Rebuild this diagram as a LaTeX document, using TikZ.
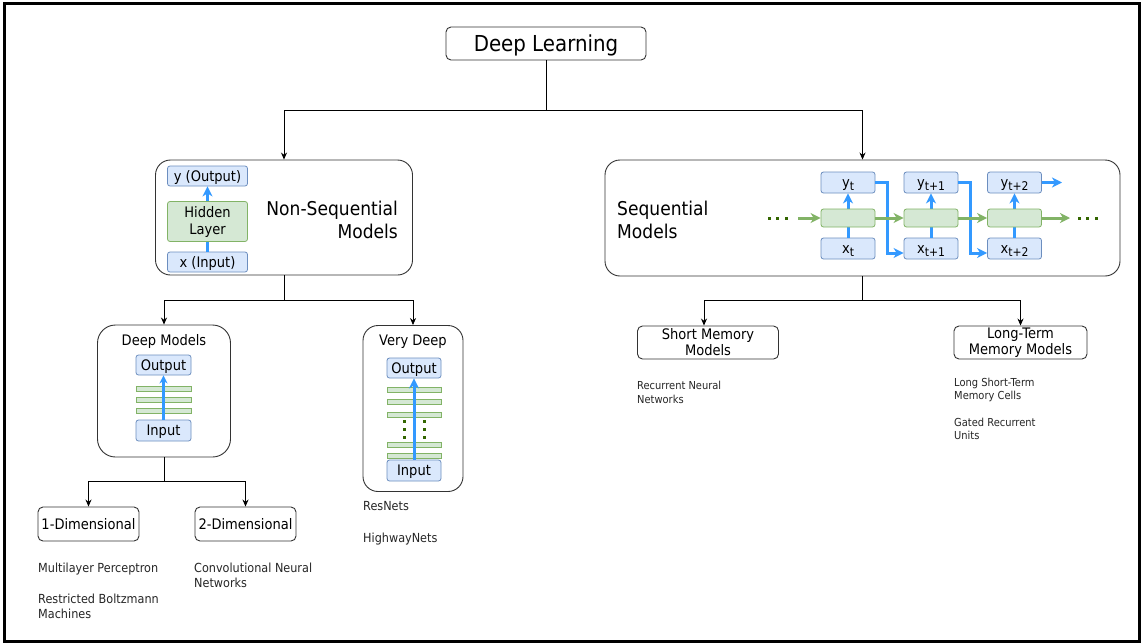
\documentclass[tikz,border=0pt]{standalone}
\usepackage{fontspec}
\setmainfont{DejaVu Sans}[FakeStretch=0.9]
\usetikzlibrary{arrows.meta}
\definecolor{bfill}{HTML}{DAE8FC}
\definecolor{bdraw}{HTML}{6C8EBF}
\definecolor{gfill}{HTML}{D5E8D4}
\definecolor{gdraw}{HTML}{82B366}
\definecolor{barrow}{HTML}{3399FF}
\definecolor{garrow}{HTML}{82B366}
\definecolor{dgreen}{HTML}{336600}
\definecolor{edge}{HTML}{333333}
\newcommand\fsz[2]{\fontsize{#1}{#2}\selectfont}
\newcommand\sbs[1]{\raisebox{-0.35ex}{\fontsize{12}{12}\selectfont #1}}
\begin{document}
\begin{tikzpicture}[x=1pt,y=-1pt,
  box/.style={draw=edge, line width=0.9pt, fill=white, rounded corners=5pt, inner sep=0pt, align=center, text=black},
  capc/.style={text height=10.6pt, text depth=0pt},
  bluebox/.style={draw=bdraw, fill=bfill, rounded corners=2.5pt, inner sep=0pt, line width=0.8pt, align=center, font=\fsz{14.5}{17}},
  greenbox/.style={draw=gdraw, fill=gfill, rounded corners=2.5pt, inner sep=0pt, line width=0.8pt, align=center, font=\fsz{14.5}{17}},
  bar/.style={draw=gdraw, fill=gfill, inner sep=0pt, line width=0.7pt, minimum height=5pt},
  conn/.style={draw=black, line width=0.8pt},
  arr/.style={conn, -{Stealth[length=7pt,width=6pt]}},
  barr/.style={draw=barrow, line width=3pt, -{Stealth[length=10pt,width=10pt,inset=3pt]}},
  barrthin/.style={draw=barrow, line width=2.2pt, -{Stealth[length=8pt,width=8pt,inset=2.5pt]}},
  garr/.style={draw=garrow, line width=3pt, -{Stealth[length=10pt,width=10pt,inset=3pt]}},
  note/.style={anchor=north west, inner sep=0pt, align=left, text=black!85},
  gdot/.style={fill=dgreen}
]
\useasboundingbox (0,0) rectangle (1141,643);
\fill[white] (0,0) rectangle (1141,643);
\draw[line width=3pt, black] (4.3,3.3) rectangle (1139,641.5);

% top
\node[box, minimum width=200pt, minimum height=33pt, font=\fsz{22}{26}, text height=16pt, text depth=0pt] (dl) at (546,43.5) {Deep Learning};

% non-sequential
\node[box, rounded corners=15pt, minimum width=257pt, minimum height=115pt] (ns) at (284,217.5) {};
\node[anchor=east, align=right, font=\fsz{19}{23}, inner sep=0pt] (nsl) at (398,219.5) {Non-Sequential\\Models};
\node[bluebox, capc, minimum width=80pt, minimum height=20pt] (yo) at (207.5,176) {y (Output)};
\node[greenbox, minimum width=80pt, minimum height=40pt] (hl) at (207.5,221.5) {Hidden\\Layer};
\node[bluebox, capc, minimum width=80pt, minimum height=20pt] (xi) at (207.5,262) {x (Input)};
\draw[draw=barrow, line width=3pt] (xi.north) -- (hl.south);
\draw[barr] (hl.north) -- (yo.south);

% sequential
\node[box, rounded corners=15pt, minimum width=515pt, minimum height=116pt] (sq) at (862.5,218) {};
\node[anchor=west, align=left, font=\fsz{19}{23}, inner sep=0pt] (sql) at (617,219.5) {Sequential\\Models};
\node[bluebox, capc, minimum width=54pt, minimum height=21pt] (y0) at (848,182.5) {y\sbs{t}};
\node[bluebox, capc, minimum width=54pt, minimum height=21pt] (x0) at (848,248.5) {x\sbs{t}};
\node[bluebox, capc, minimum width=54pt, minimum height=21pt] (y1) at (931,182.5) {y\sbs{t+1}};
\node[bluebox, capc, minimum width=54pt, minimum height=21pt] (x1) at (931,248.5) {x\sbs{t+1}};
\node[bluebox, capc, minimum width=54pt, minimum height=21pt] (y2) at (1014.5,182.5) {y\sbs{t+2}};
\node[bluebox, capc, minimum width=54pt, minimum height=21pt] (x2) at (1014.5,248.5) {x\sbs{t+2}};
\draw[barr] (x0.north) -- (y0.south);
\draw[barr] (x1.north) -- (y1.south);
\draw[barr] (x2.north) -- (y2.south);
\coordinate (f0) at (887,253);
\coordinate (f1) at (970,253);
\coordinate (o2) at (1062,182.5);
\draw[barr] (y0.east) -| (f0) -- (f0 -| x1.west);
\draw[barr] (y1.east) -| (f1) -- (f1 -| x2.west);
\draw[barr] (y2.east) -- (o2);
\node[greenbox, minimum width=54pt, minimum height=18pt] (c0) at (848,218) {};
\node[greenbox, minimum width=54pt, minimum height=18pt] (c1) at (931,218) {};
\node[greenbox, minimum width=54pt, minimum height=18pt] (c2) at (1014.5,218) {};
\coordinate (gin) at (798,218);
\coordinate (gout) at (1070,218);
\draw[garr] (gin) -- (c0.west);
\draw[garr] (c0.east) -- (c1.west);
\draw[garr] (c1.east) -- (c2.west);
\draw[garr] (c2.east) -- (gout);
\foreach \xx in {769,777.5,786,1079,1087.5,1096}
  \fill[gdot] (\xx-1.5,216.5) rectangle (\xx+1.5,219.5);

% connectors top
\coordinate (j1) at (546,110);
\draw[conn] (dl.south) -- (j1);
\draw[arr] (j1) -| (ns.north);
\draw[arr] (j1) -| (sq.north);

% sequential children
\node[box, minimum width=141pt, minimum height=33pt, font=\fsz{14.5}{16}] (sm) at (708,342.5) {Short Memory\\Models};
\node[box, minimum width=133pt, minimum height=33pt, font=\fsz{14.5}{16}] (lt) at (1020.5,342.5) {Long-Term\\Memory Models};
\coordinate (j2) at (862.5,300.5);
\draw[conn] (sq.south) -- (j2);
\draw[arr] (j2) -| ([xshift=-4pt]sm.north);
\draw[arr] (j2) -| (lt.north);
\node[note, font=\fsz{11}{14}] (n1) at (637,380.6) {Recurrent Neural\\Networks};
\node[note, font=\fsz{11}{13.5}] (n2) at (954,377.6) {Long Short-Term\\Memory Cells};
\node[note, font=\fsz{11}{13.5}] (n3) at (954,417.6) {Gated Recurrent\\Units};

% deep models
\node[box, rounded corners=18pt, minimum width=133pt, minimum height=132pt] (dm) at (164,391) {};
\node[inner sep=0pt, font=\fsz{14.5}{17}] (dml) at (164,341) {Deep Models};
\node[bluebox, capc, minimum width=55pt, minimum height=20pt] (dmo) at (163.5,365) {Output};
\node[bar, minimum width=55pt] (b1) at (163.5,388.5) {};
\node[bar, minimum width=55pt] (b2) at (163.5,399.5) {};
\node[bar, minimum width=55pt] (b3) at (163.5,410.5) {};
\node[bluebox, capc, minimum width=55pt, minimum height=21pt] (dmi) at (163.5,430.5) {Input};
\draw[barrthin] (dmi.north) -- (dmo.south);

% very deep
\node[box, rounded corners=15pt, minimum width=100pt, minimum height=166pt] (vd) at (413,408.5) {};
\node[inner sep=0pt, font=\fsz{14.5}{17}] (vdl) at (413,342) {Very Deep};
\node[bluebox, capc, minimum width=54pt, minimum height=20pt] (vdo) at (414,368) {Output};
\node[bar, minimum width=54pt] (v1) at (414,389.5) {};
\node[bar, minimum width=54pt] (v2) at (414,402) {};
\node[bar, minimum width=54pt] (v3) at (414,415) {};
\node[bar, minimum width=54pt] (v4) at (414,444.5) {};
\node[bar, minimum width=54pt] (v5) at (414,456) {};
\node[bluebox, capc, minimum width=54pt, minimum height=21pt] (vdi) at (414,470.5) {Input};
\foreach \xx in {404,424} \foreach \yy in {421,429,437}
  \fill[gdot] (\xx-1.5,\yy-1.5) rectangle (\xx+1.5,\yy+1.5);
\draw[barr] (vdi.north) -- (vdo.south);
\node[note, font=\fsz{12.5}{15}] (rn) at (363,500.8) {ResNets};
\node[note, font=\fsz{12.5}{15}] (hn) at (363,532.8) {HighwayNets};

% non-seq children
\coordinate (j4) at (284,300);
\draw[conn] (ns.south) -- (j4);
\draw[arr] (j4) -| (dm.north);
\draw[arr] (j4) -| (vd.north);

% deep model children
\node[box, capc, minimum width=101pt, minimum height=34pt, font=\fsz{14.5}{17}] (d1) at (88.5,524) {1-Dimensional};
\node[box, capc, minimum width=101pt, minimum height=34pt, font=\fsz{14.5}{17}] (d2) at (245.5,524) {2-Dimensional};
\coordinate (j5) at (164,481);
\draw[conn] (dm.south) -- (j5);
\draw[arr] (j5) -| (d1.north);
\draw[arr] (j5) -| (d2.north);
\node[note, font=\fsz{12.5}{15}] (m1) at (38,562.5) {Multilayer Perceptron};
\node[note, font=\fsz{12.5}{15}] (m2) at (38,593.5) {Restricted Boltzmann\\Machines};
\node[note, font=\fsz{12.5}{15}] (m3) at (194,562.5) {Convolutional Neural\\Networks};
\end{tikzpicture}
\end{document}
